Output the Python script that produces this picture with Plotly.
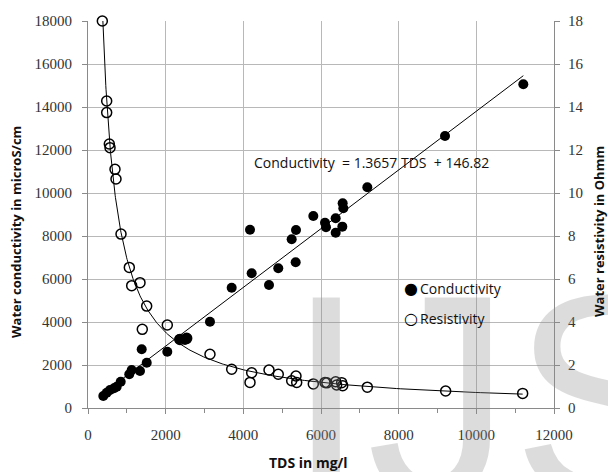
import numpy as np
import plotly.graph_objects as go

# ---- data ----
tds_cond = [394, 482, 567, 670, 739, 842, 1063, 1125, 1339, 1383, 1512, 2042, 2351, 2498, 2541,
            3141, 3700, 4172, 4215, 4661, 4900, 5245, 5348, 5356, 5802, 6103, 6129, 6378, 6378,
            6549, 6558, 6575, 7193, 9193, 11210]
conductivity = [558, 712, 837, 916, 991, 1223, 1567, 1767, 1721, 2730, 2107, 2618, 3195, 3163, 3242,
                4014, 5590, 8290, 6265, 5721, 6497, 7846, 6777, 8279, 8930, 8620, 8404, 8823, 8155,
                8435, 9521, 9288, 10265, 12651, 15056]

tds_res = [369, 481, 481, 549, 567, 695, 721, 850, 1064, 1125, 1339, 1511, 1398, 2042, 2369, 2541,
           3141, 3700, 4215, 4172, 4661, 4900, 5356, 5245, 5374, 5802, 6103, 6150, 6378, 6404,
           6532, 6558, 7193, 9210, 11193]
resistivity = [18.0, 14.28, 13.74, 12.28, 12.11, 11.10, 10.65, 8.09, 6.54, 5.69, 5.83, 4.74, 3.66, 3.86,
               3.19, 3.24, 2.50, 1.80, 1.64, 1.19, 1.77, 1.57, 1.49, 1.27, 1.19, 1.12, 1.19, 1.17, 1.22,
               1.07, 1.18, 1.04, 0.97, 0.79, 0.68]

slope, intercept = 1.3657, 146.82
x_ticks = [0, 2000, 4000, 6000, 8000, 10000, 12000]

# ---- layout geometry (pixels) ----
W, H = 608, 472
L, R, T, B = 88, 54, 21, 64
PW, PH = W - L - R, H - T - B


def px(x):
    return (x - L) / PW


def py(y):
    return (H - B - y) / PH


fig = go.Figure()

# linear trend line for conductivity
xl = [min(tds_cond), max(tds_cond)]
fig.add_trace(go.Scatter(x=xl, y=[slope * v + intercept for v in xl], mode="lines",
                         line=dict(color="black", width=1), showlegend=False, hoverinfo="skip"))
fig.add_trace(go.Scatter(x=tds_cond, y=conductivity, mode="markers", name="Conductivity",
                         marker=dict(symbol="circle", size=10, color="black"), showlegend=False,
                         cliponaxis=False))

# power trend for resistivity (fit of the read data)
b, a = np.polyfit(np.log(tds_res), np.log(resistivity), 1)
xs = np.geomspace(min(tds_res), max(tds_res), 300)
fig.add_trace(go.Scatter(x=xs, y=np.exp(a) * xs ** b, yaxis="y2", mode="lines",
                         line=dict(color="black", width=1), showlegend=False, hoverinfo="skip"))
fig.add_trace(go.Scatter(x=tds_res, y=resistivity, yaxis="y2", mode="markers", name="Resistivity",
                         marker=dict(symbol="circle-open", size=10, color="black", line=dict(width=1.5)),
                         showlegend=False, cliponaxis=False))

tick_font = dict(family="Liberation Serif", size=15, color="#333333")
grid = "#b8b8b8"
axcol = "#8a8a8a"

fig.update_layout(
    width=W, height=H,
    margin=dict(l=L, r=R, t=T, b=B),
    paper_bgcolor="white", plot_bgcolor="white",
    showlegend=False,
    xaxis=dict(range=[0, 12000], tickvals=x_ticks, tickformat="d", showgrid=True, gridcolor=grid,
               gridwidth=1, showline=True, linecolor=axcol, linewidth=1, zeroline=False,
               ticks="outside", ticklen=5, tickcolor=axcol, tickfont=tick_font,
               ticklabelstandoff=8,
               minor=dict(dtick=1000, ticks="outside", ticklen=4, tickcolor=axcol, showgrid=False)),
    yaxis=dict(range=[0, 18000], dtick=2000, tickformat="d", showgrid=True, gridcolor=grid, gridwidth=1,
               showline=True, linecolor=axcol, linewidth=1, zeroline=False,
               ticks="outside", ticklen=5, tickcolor=axcol, tickfont=tick_font,
               ticklabelstandoff=7),
    yaxis2=dict(range=[0, 18], dtick=2, overlaying="y", side="right", showgrid=False,
                showline=True, linecolor=axcol, linewidth=1, zeroline=False,
                ticks="outside", ticklen=5, tickcolor=axcol, tickfont=tick_font,
                ticklabelstandoff=5),
)

title_font = dict(family="Open Sans", size=13, color="#111111", weight="bold")
xtitle_font = dict(family="Open Sans", size=14, color="#111111", weight="bold")
text_font = dict(family="Open Sans", size=14, color="#111111")
glyph_font = dict(family="DejaVu Sans", size=16, color="#000000")

ann = [
    # watermark (drawn faint)
    dict(text="IJS", x=px(284), y=py(232), xref="paper", yref="paper", showarrow=False,
         font=dict(family="Liberation Sans", size=290, color="rgba(140,140,140,0.30)"),
         xanchor="left", yanchor="top"),
    dict(text="TDS in mg/l", x=px(308), y=py(462), xref="paper", yref="paper",
         showarrow=False, font=xtitle_font, xanchor="center", yanchor="middle"),
    dict(text="Water conductivity in microS/cm", x=px(16), y=py(232), xref="paper", yref="paper",
         showarrow=False, font=title_font, textangle=-90, xanchor="center", yanchor="middle"),
    dict(text="Water resistivity in Ohmm", x=px(599), y=py(232), xref="paper", yref="paper",
         showarrow=False, font=title_font, textangle=-90, xanchor="center", yanchor="middle"),
    dict(text="Conductivity  = 1.3657 TDS  + 146.82", x=px(252), y=py(163), xref="paper", yref="paper",
         showarrow=False, font=text_font, xanchor="left", yanchor="middle"),
    dict(text="\u25cf", x=px(411), y=py(288), xref="paper", yref="paper",
         showarrow=False, font=glyph_font, xanchor="center", yanchor="middle"),
    dict(text="Conductivity", x=px(418), y=py(288), xref="paper", yref="paper",
         showarrow=False, font=text_font, xanchor="left", yanchor="middle"),
    dict(text="\u25cb", x=px(411), y=py(318), xref="paper", yref="paper",
         showarrow=False, font=glyph_font, xanchor="center", yanchor="middle"),
    dict(text="Resistivity", x=px(418), y=py(318), xref="paper", yref="paper",
         showarrow=False, font=text_font, xanchor="left", yanchor="middle"),
]
fig.update_layout(annotations=ann)

shapes = [
    # legend background
    dict(type="rect", xref="paper", yref="paper", x0=px(400), x1=px(512), y0=py(335), y1=py(276),
         fillcolor="white", line=dict(width=0), layer="between"),
]
fig.update_layout(shapes=shapes)

fig.write_html("out.html")
